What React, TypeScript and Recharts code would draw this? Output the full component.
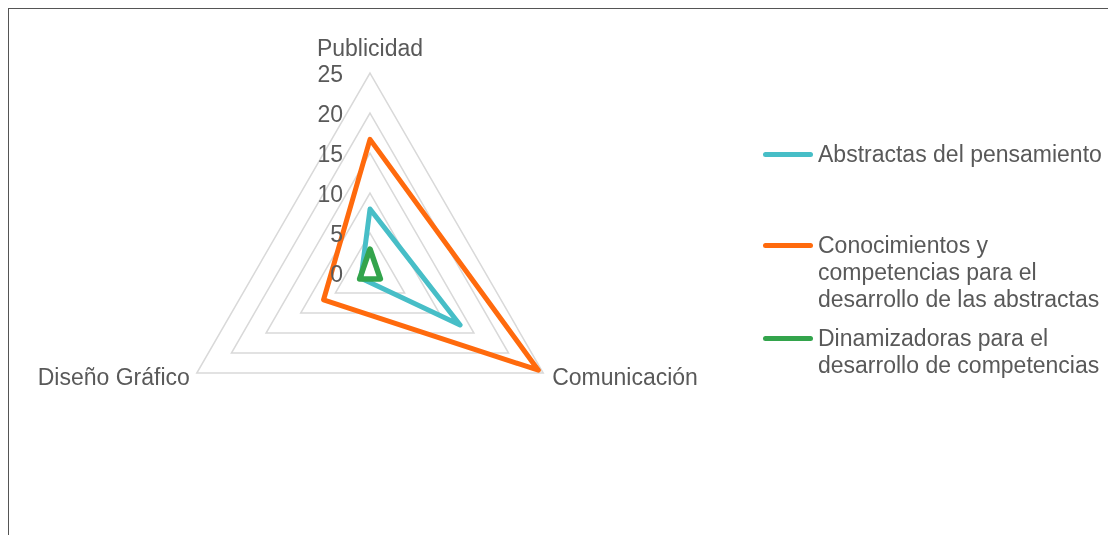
import { RadarChart, Radar, PolarGrid, PolarAngleAxis, PolarRadiusAxis, Legend } from 'recharts';

const categories = ['Publicidad', 'Comunicación', 'Diseño Gráfico'];
const abstractas = [8, 13, 1.3];
const conocimientos = [16.7, 24.3, 6.7];
const dinamizadoras = [3, 1.5, 1.5];
const radiusTicks = [0, 5, 10, 15, 20, 25];

const seriesNames = [
  'Abstractas del pensamiento',
  'Conocimientos y\ncompetencias para el\ndesarrollo de las abstractas',
  'Dinamizadoras para el\ndesarrollo de competencias',
];
const seriesColors = ['#47BEC7', '#FF6A0D', '#33A44C'];

const data = categories.map((category, i) => ({
  category,
  abstractas: abstractas[i],
  conocimientos: conocimientos[i],
  dinamizadoras: dinamizadoras[i],
}));

const FONT = '"Liberation Sans", Arial, sans-serif';
const TEXT = '#595959';
const FS = 23;

const AngleTick = (props: any) => {
  const { x, y, payload, textAnchor } = props;
  let dy = 0;
  let dx = 0;
  if (textAnchor === 'middle') dy = -17;
  if (textAnchor === 'start') dx = 2;
  return (
    <text x={x + dx} y={y + dy} textAnchor={textAnchor} dominantBaseline="central" fill={TEXT} fontSize={FS} fontFamily={FONT}>
      {payload.value}
    </text>
  );
};

const RadiusTick = (props: any) => {
  const { x, y, payload } = props;
  return (
    <text x={x - 27} y={y + 1} textAnchor="end" dominantBaseline="central" fill={TEXT} fontSize={FS} fontFamily={FONT}>
      {payload.value}
    </text>
  );
};

// legend item tops, relative to the legend wrapper
const legendTops = [0, 91, 184];

const LegendContent = () => (
  <div style={{ position: 'relative', width: 346, height: 240, fontFamily: FONT }}>
    {seriesNames.map((name, i) => (
      <div key={name} style={{ position: 'absolute', left: 0, top: legendTops[i], width: 346, display: 'flex', alignItems: 'flex-start' }}>
        <div style={{ width: 50, height: 5, borderRadius: 3, background: seriesColors[i], marginTop: 11, flexShrink: 0 }} />
        <div style={{ marginLeft: 5, fontSize: FS, lineHeight: '27px', color: TEXT, whiteSpace: 'pre', fontFamily: FONT }}>{name}</div>
      </div>
    ))}
  </div>
);

export default function App() {
  return (
    <div style={{ position: 'fixed', left: 8, top: 8, width: 1099, height: 526, borderTop: '1px solid #555', borderLeft: '1px solid #555' }}>
      <style>{'html, body { margin: 0; overflow: hidden; }'}</style>
      <RadarChart width={1099} height={526} cx={361} cy={264} outerRadius={200} data={data} margin={{ top: 0, right: 0, bottom: 0, left: 0 }}>
        <PolarGrid gridType="polygon" radialLines={false} stroke="#D9D9D9" strokeWidth={1.5} />
        <PolarAngleAxis dataKey="category" tick={AngleTick} tickLine={false} axisLine={false} />
        <PolarRadiusAxis angle={90} domain={[0, 25]} ticks={radiusTicks} tickCount={6} tick={RadiusTick} axisLine={false} tickLine={false} />
        <Radar name={seriesNames[0]} dataKey="abstractas" stroke={seriesColors[0]} strokeWidth={5} fill="none" fillOpacity={0} strokeLinejoin="round" dot={false} isAnimationActive={false} />
        <Radar name={seriesNames[1]} dataKey="conocimientos" stroke={seriesColors[1]} strokeWidth={5} fill="none" fillOpacity={0} strokeLinejoin="round" dot={false} isAnimationActive={false} />
        <Radar name={seriesNames[2]} dataKey="dinamizadoras" stroke={seriesColors[2]} strokeWidth={5.5} fill="none" fillOpacity={0} strokeLinejoin="round" dot={false} isAnimationActive={false} />
        <Legend content={LegendContent} wrapperStyle={{ position: 'absolute', left: 754, top: 132, width: 346 }} />
      </RadarChart>
    </div>
  );
}
